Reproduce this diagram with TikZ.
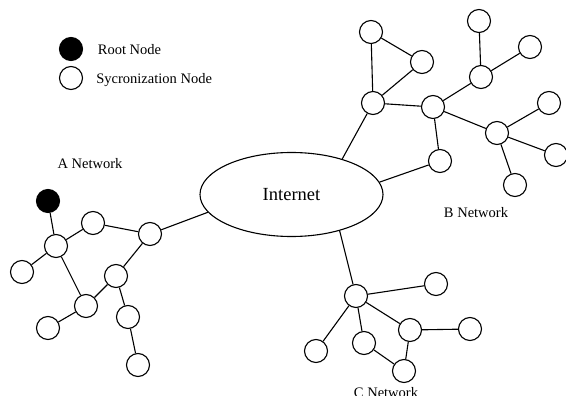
\documentclass[tikz,border=0pt]{standalone}
\usepackage{fontspec}
\setmainfont{Liberation Serif}
\usetikzlibrary{shapes.geometric}

\begin{document}
\begin{tikzpicture}[x=1pt,y=-1pt,line width=1.1pt]
\tikzstyle{sync}=[circle, draw, fill=white, minimum size=23pt,
                  inner sep=0pt]
\tikzstyle{root}=[sync, fill=black]
\tikzstyle{nettext}=[font=\fontsize{14.5}{16}\selectfont, anchor=base]
\useasboundingbox (0,0) rectangle (566,396);
% legend
\node[root] (lroot) at (71,49){};
\node[sync] (lsync) at (71,78){};
\node[nettext, anchor=base west] (troot) at (94,55){Root Node};
\node[nettext, anchor=base west] (tsync) at (92.5,83.5){Sycronization Node};
% internet
\node[ellipse, draw, minimum width=183pt, minimum height=84pt,
      font=\fontsize{18.5}{20}\selectfont] (inet) at (291.5,194.5){Internet};
% A network
\node[root] (a0) at (48,201){};
\node[sync] (a1) at (56,246){};
\node[sync] (a2) at (93,223){};
\node[sync] (a3) at (150,234){};
\node[sync] (a4) at (22,272){};
\node[sync] (a5) at (116,276){};
\node[sync] (a6) at (86,306){};
\node[sync] (a7) at (48,328){};
\node[sync] (a8) at (128,317){};
\node[sync] (a9) at (138,365){};
\foreach \i/\j in {a0/a1,a1/a2,a2/a3,a1/a4,a1/a6,a6/a5,a5/a3,a6/a7,a5/a8,a8/a9}{\draw (\i) -- (\j);}
\draw (a3) -- (inet.192);
\node[nettext] (ta) at (90,168){A Network};
% B network
\node[sync] (b1) at (371,32){};
\node[sync] (b2) at (422,62){};
\node[sync] (b3) at (373,103){};
\node[sync] (b4) at (433,107){};
\node[sync] (b5) at (481,77){};
\node[sync] (b6) at (479,21){};
\node[sync] (b7) at (530,47){};
\node[sync] (b8) at (497,133){};
\node[sync] (b9) at (549,103){};
\node[sync] (b10) at (556,155){};
\node[sync] (b11) at (515,185){};
\node[sync] (b12) at (440,161){};
\foreach \i/\j in {b1/b2,b1/b3,b2/b3,b3/b4,b4/b5,b5/b6,b5/b7,b4/b8,b8/b9,b8/b10,b8/b11,b4/b12}{\draw (\i) -- (\j);}
\draw (b3) -- (inet.35);
\draw (b12) -- (inet.8);
\node[nettext] (tb) at (476,218){B Network};
% C network
\node[sync] (c1) at (356,296){};
\node[sync] (c2) at (436,284){};
\node[sync] (c3) at (410,330){};
\node[sync] (c4) at (470,329){};
\node[sync] (c5) at (364,343){};
\node[sync] (c6) at (316,351){};
\node[sync] (c7) at (404,371){};
\foreach \i/\j in {c1/c2,c1/c3,c3/c4,c1/c5,c5/c7,c3/c7,c1/c6}{\draw (\i) -- (\j);}
\draw (c1) -- (inet.-37);
\node[nettext] (tc) at (386,397){C Network};
\end{tikzpicture}
\end{document}
